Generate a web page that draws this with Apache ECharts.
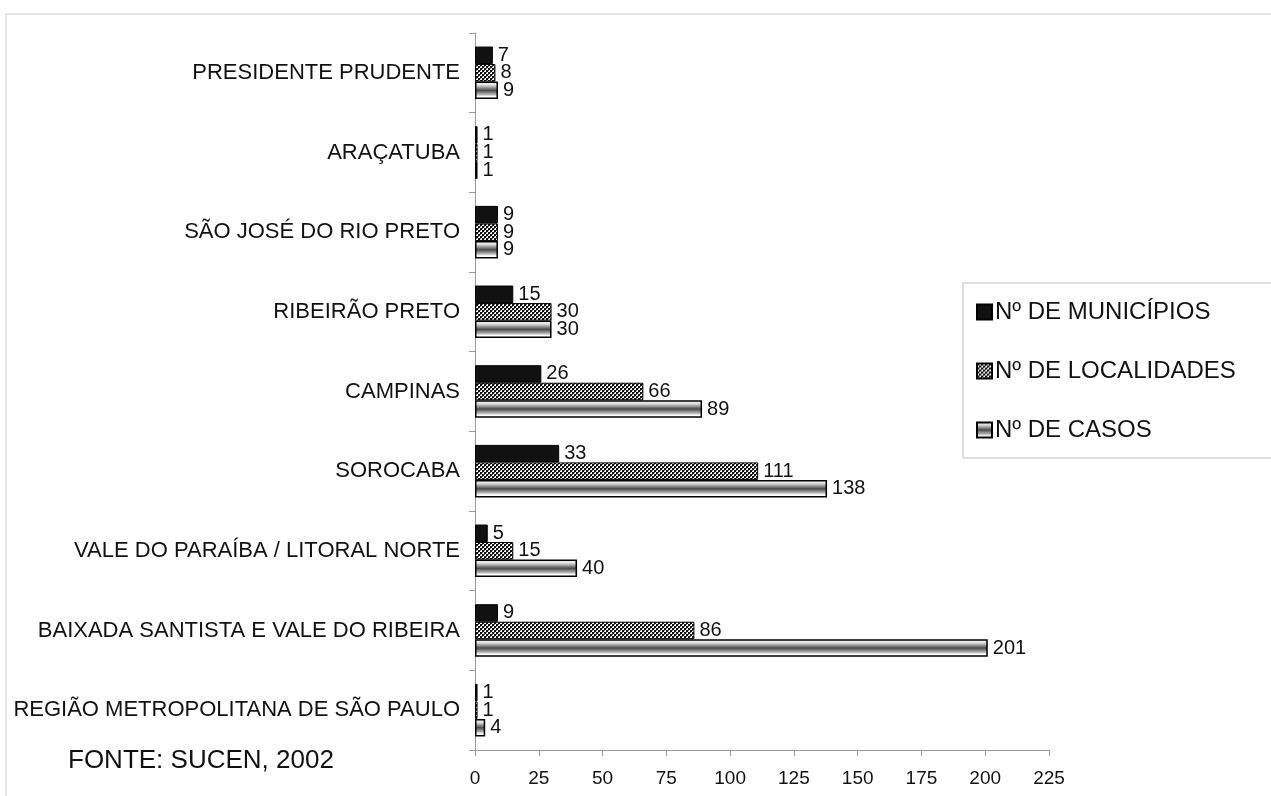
<!DOCTYPE html>
<html><head><meta charset="utf-8">
<script src="https://cdn.jsdelivr.net/npm/echarts@6/dist/echarts.min.js"></script>
<style>html,body{margin:0;padding:0;background:#fff}#c{width:1271px;height:796px}</style>
</head><body><div id="c"></div>
<script>
const categories = ["PRESIDENTE PRUDENTE","ARAÇATUBA","SÃO JOSÉ DO RIO PRETO","RIBEIRÃO PRETO","CAMPINAS","SOROCABA","VALE DO PARAÍBA / LITORAL NORTE","BAIXADA SANTISTA E VALE DO RIBEIRA","REGIÃO METROPOLITANA DE SÃO PAULO"];
const municipios = [7,1,9,15,26,33,5,9,1];
const localidades = [8,1,9,30,66,111,15,86,1];
const casos = [9,1,9,30,89,138,40,201,4];
const seriesNames = ["Nº DE MUNICÍPIOS","Nº DE LOCALIDADES","Nº DE CASOS"];
const xTicks = [0,25,50,75,100,125,150,175,200,225];

function checker(){
  const c=document.createElement('canvas');c.width=4;c.height=4;
  const g=c.getContext('2d');g.fillStyle='#fff';g.fillRect(0,0,4,4);
  g.fillStyle='#111';g.fillRect(0,0,2,2);g.fillRect(2,2,2,2);
  g.fillStyle='#666';g.fillRect(2,0,1,1);g.fillRect(0,2,1,1);
  return c;
}
const grad = new echarts.graphic.LinearGradient(0,0,0,1,[
  {offset:0,color:'#ffffff'},{offset:0.2,color:'#dddddd'},{offset:0.5,color:'#4a4a4a'},
  {offset:0.75,color:'#bbbbbb'},{offset:0.85,color:'#ffffff'},{offset:1,color:'#ffffff'}]);
const font = '"Liberation Sans", Arial, sans-serif';
const lbl = {show:true,position:'right',distance:5,color:'#111',fontSize:20,fontFamily:font};
const chart = echarts.init(document.getElementById('c'),null,{renderer:'canvas'});
chart.setOption({
  animation:false,
  textStyle:{fontFamily:font},
  grid:{left:475,top:33,right:222,bottom:46,containLabel:false},
  graphic:[
    {type:'rect',shape:{x:6,y:14,width:1300,height:800},style:{fill:'none',stroke:'#c8c8c8',lineWidth:1},silent:true,z:-1},
    {type:'text',left:68,top:748,style:{text:'FONTE: SUCEN, 2002',fontSize:26,fill:'#111',fontFamily:font}}
  ],
  legend:{
    orient:'vertical',left:963,top:283,width:330,
    padding:[17,40,16,13],itemGap:35,itemWidth:15,itemHeight:15,icon:'rect',
    borderColor:'#bdbdbd',borderWidth:1,
    textStyle:{fontSize:24,color:'#111',fontFamily:font,padding:[0,0,0,-2]},
    data:seriesNames
  },
  xAxis:{type:'value',min:0,max:225,interval:25,
    axisLine:{show:true,lineStyle:{color:'#999'}},
    axisTick:{show:true,length:6,lineStyle:{color:'#999'}},
    splitLine:{show:false},
    axisLabel:{fontSize:19,color:'#111',margin:19,fontFamily:font,
      formatter:v=>xTicks.indexOf(v)>=0?String(v):''}},
  yAxis:{type:'category',inverse:true,data:categories,
    axisLine:{show:true,lineStyle:{color:'#999'}},
    axisTick:{show:true,length:6,lineStyle:{color:'#999'}},
    axisLabel:{fontSize:22,color:'#111',margin:15,fontFamily:font}},
  series:[
    {name:seriesNames[0],type:'bar',data:municipios,barGap:'0%',barCategoryGap:'34%',
      itemStyle:{color:'#111',borderColor:'#000',borderWidth:1},label:lbl},
    {name:seriesNames[1],type:'bar',data:localidades,barGap:'0%',barCategoryGap:'34%',
      itemStyle:{color:{image:checker(),repeat:'repeat'},borderColor:'#000',borderWidth:1},label:lbl},
    {name:seriesNames[2],type:'bar',data:casos,barGap:'0%',barCategoryGap:'34%',
      itemStyle:{color:grad,borderColor:'#000',borderWidth:1.5},label:lbl}
  ]
});
</script></body></html>
